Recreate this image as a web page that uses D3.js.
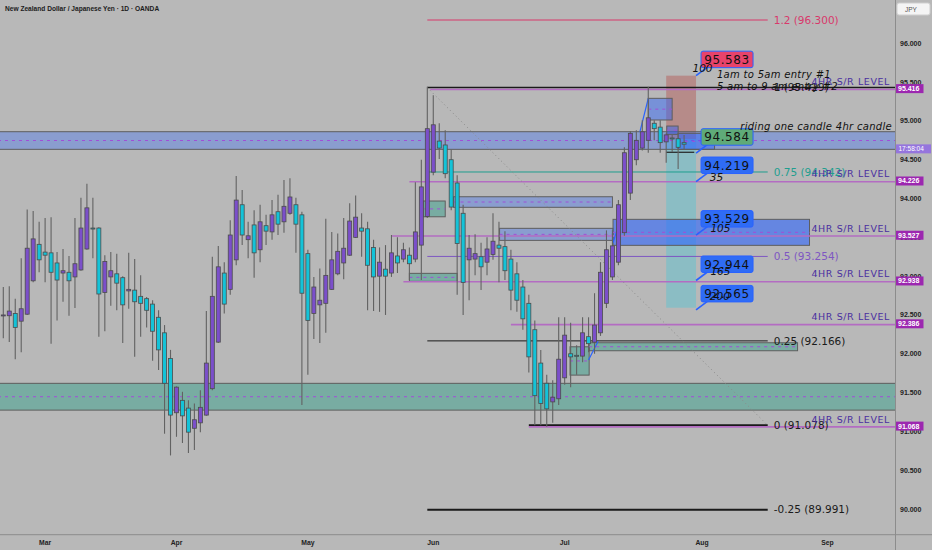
<!DOCTYPE html>
<html>
<head>
<meta charset="utf-8">
<script src="https://cdn.jsdelivr.net/npm/d3@7"></script>
<style>
	body { margin: 0; background: #b8b8b8; }
	svg { display: block; font-family: "DejaVu Sans", sans-serif; }
</style>
</head>
<body>
<div id="chart"></div>
<script>
// daily candles, NZD/JPY
const opens = [92.49, 92.49, 92.52, 92.42, 92.51, 92.94, 93.41, 93.31, 93.30, 93.17,
	93.04, 93.05, 92.99, 93.08, 93.35, 93.62, 93.62, 92.79, 92.99, 93.03,
	92.98, 92.81, 92.82, 92.74, 92.71, 92.64, 92.47, 92.27, 91.94, 91.24,
	91.40, 91.30, 91.04, 91.11, 91.21, 91.55, 92.15, 93.04, 92.83, 93.21,
	93.92, 93.47, 93.66, 93.34, 93.65, 93.57, 93.83, 93.70, 93.81, 93.92,
	93.79, 93.29, 92.52, 92.63, 92.65, 92.83, 93.03, 93.17, 93.27, 93.50,
	93.62, 93.61, 93.37, 93.00, 93.09, 93.04, 93.26, 93.22, 93.27, 93.22,
	93.40, 93.77, 94.34, 94.74, 94.69, 94.50, 94.20, 93.81, 93.21, 93.22,
	93.25, 93.18, 93.28, 93.40, 93.38, 93.22, 93.03, 92.86, 92.65, 92.31,
	91.88, 91.62, 91.38, 91.42, 91.69, 92.00, 91.98, 91.97, 92.22, 92.15,
	92.27, 92.65, 92.99, 93.18, 93.56, 94.07, 94.50, 94.65, 94.75, 94.97,
	94.92, 94.73, 94.78, 94.77, 94.72]
const highs = [92.86, 92.87, 92.71, 93.23, 93.86, 93.84, 93.70, 93.75, 93.76, 93.31,
	93.35, 93.26, 93.75, 94.01, 94.19, 94.01, 93.63, 93.27, 93.31, 93.29,
	93.00, 93.30, 93.22, 93.01, 92.73, 92.69, 92.56, 92.37, 92.05, 91.58,
	91.51, 91.40, 91.36, 91.53, 92.55, 93.25, 93.39, 93.18, 93.72, 94.29,
	94.11, 93.70, 93.85, 93.92, 93.79, 93.98, 94.05, 94.24, 94.26, 94.01,
	93.83, 93.34, 92.99, 93.10, 93.74, 93.57, 93.55, 93.75, 93.94, 94.04,
	93.81, 93.70, 93.47, 93.37, 93.40, 93.53, 93.50, 93.43, 93.37, 94.21,
	94.50, 95.44, 95.33, 94.97, 94.88, 94.63, 94.30, 93.92, 93.53, 93.54,
	93.43, 93.50, 93.81, 93.70, 93.58, 93.34, 93.18, 92.95, 92.76, 92.43,
	92.05, 91.73, 91.66, 92.47, 92.47, 92.40, 92.11, 92.47, 92.47, 92.78,
	93.18, 93.59, 93.59, 93.98, 94.66, 94.87, 94.88, 95.01, 95.44, 95.01,
	95.01, 94.84, 94.82, 94.84, 94.82]
const lows = [92.20, 92.15, 91.93, 92.02, 92.50, 92.92, 93.05, 92.92, 92.13, 92.43,
	92.67, 92.49, 92.59, 93.07, 93.34, 93.23, 92.22, 92.29, 92.62, 92.56,
	92.14, 92.58, 91.96, 92.22, 92.34, 91.91, 91.79, 90.97, 90.69, 90.93,
	90.85, 90.72, 90.76, 90.99, 91.20, 91.53, 92.14, 92.52, 92.76, 93.14,
	93.40, 93.23, 92.98, 93.18, 93.40, 93.47, 93.53, 93.56, 93.79, 93.30,
	91.34, 91.73, 92.19, 92.14, 92.27, 92.82, 93.01, 92.96, 93.26, 93.49,
	93.25, 92.56, 92.55, 92.54, 92.50, 92.99, 93.04, 93.18, 92.95, 93.18,
	92.95, 93.75, 94.30, 94.51, 94.26, 93.85, 92.76, 92.50, 92.69, 93.01,
	92.82, 93.01, 93.21, 92.92, 92.95, 92.56, 92.54, 92.31, 91.76, 91.08,
	91.08, 91.06, 91.11, 91.34, 91.60, 91.57, 91.73, 91.89, 92.02, 92.00,
	92.23, 92.59, 92.95, 93.14, 93.52, 93.98, 94.43, 94.62, 94.59, 94.75,
	94.59, 94.46, 94.60, 94.38, 94.63]
const closes = [92.50, 92.55, 92.34, 92.58, 93.36, 93.48, 93.21, 93.27, 93.05, 92.95,
	93.07, 92.94, 93.16, 93.62, 93.88, 93.61, 92.77, 93.19, 93.07, 92.91,
	92.63, 92.83, 92.67, 92.65, 92.56, 92.29, 92.05, 91.62, 91.21, 91.57,
	91.20, 90.99, 91.15, 91.31, 91.88, 92.74, 93.12, 92.64, 93.53, 93.98,
	93.53, 93.52, 93.30, 93.70, 93.58, 93.79, 93.67, 93.90, 94.02, 93.67,
	92.78, 92.43, 92.86, 92.69, 93.01, 93.21, 93.32, 93.36, 93.71, 93.76,
	93.58, 93.14, 92.99, 93.18, 93.00, 93.30, 93.17, 93.34, 93.16, 93.57,
	94.15, 94.90, 94.95, 94.65, 94.32, 93.89, 93.42, 92.92, 93.36, 93.29,
	93.12, 93.35, 93.45, 93.36, 93.07, 92.82, 92.69, 92.45, 91.96, 91.46,
	91.36, 91.29, 91.44, 91.93, 92.24, 91.96, 91.97, 92.27, 92.13, 92.37,
	93.05, 93.34, 93.39, 93.92, 94.59, 94.84, 94.75, 94.86, 95.04, 94.90,
	94.72, 94.82, 94.77, 94.66, 94.70]

const monthLabels = ['Mar', 'Apr', 'May', 'Jun', 'Jul', 'Aug', 'Sep']
const monthBars = [7, 29, 51, 72, 94, 117, 138]
const priceTicks = [90, 90.5, 91, 91.5, 92, 92.5, 93, 93.5, 94, 94.5, 95, 95.5, 96]

// fib retracement drawn from the June high to the July low
const fibRatios = ['1.2', '1', '0.75', '0.5', '0.25', '0', '-0.25']
const fibValues = [96.300, 95.429, 94.342, 93.254, 92.166, 91.078, 89.991]
const fibFrom = [71, 71, 71, 71, 71, 88, 71]
const fibStart = 71, fibEnd = 128

// 4hr support / resistance levels (value, first bar)
const srLevels = [95.416, 94.226, 93.527, 92.938, 92.386, 91.068]
const srStart = [71.5, 68, 65, 67, 85, 88]

// zones: [firstBar, lastBar, top, bottom, kind]  (null bars = full width)
const zones = [
	[null, null, 94.861, 94.634, 'blue'],
	[null, null, 91.619, 91.274, 'green'],
	[70.3, 74, 93.968, 93.765, 'green'],
	[68, 76, 93.036, 92.933, 'green'],
	[75.4, 102, 94.023, 93.887, 'blue'],
	[83.1, 102.1, 93.616, 93.461, 'blue'],
	[102.1, 135, 93.732, 93.397, 'blueStrong'],
	[94.9, 98.1, 92.090, 91.725, 'green'],
	[98.1, 133, 92.142, 92.039, 'green'],
	[108, 112, 95.291, 95.012, 'blueMid'],
	[111.1, 113, 94.934, 94.827, 'blueMid'],
	[113, 119.1, 94.840, 94.634, 'blueMid']
]

// short position tool
const posBars = [111, 116]
const posStop = 95.583, posEntry = 94.767, posTarget = 92.593

// price callouts anchored on bar 116
const calloutBar = 116
const calloutPrices = [95.583, 94.584, 94.219, 93.529, 92.944, 92.565]
const calloutKinds = ['red', 'green', 'blue', 'blue', 'blue', 'blue']
const pipTexts = ['100', '35', '105', '165', '200']
const pipBars = [115.4, 118.3, 118.4, 118.4, 118.3]
const pipPrices = [95.626, 94.229, 93.564, 93.014, 92.692]

const notes = ['1am to 5am entry #1', '5 am to 9 am entry #2', 'riding one candle 4hr candle']
const noteBars = [119.5, 119.5, 123.4]
const notePrices = [95.553, 95.394, 94.883]

// small connector lines [bar0, price0, bar1, price1, colour]
const segments = [
	[98, 91.92, 99.6, 92.16, '#2962ff'],
	[102.1, 93.43, 103.3, 93.72, '#2962ff'],
	[106.6, 94.86, 108, 95.29, '#2962ff'],
	[111, 94.596, 115.7, 94.596, '#222']
]

const srTags = [95.416, 94.226, 93.527, 92.938, 92.386, 91.068]
const clockPrice = 94.64
const clockText = '17:58:04'

const W = 932, H = 550
const plotRight = 895.5, plotBottom = 534.7

const x = d3.scaleLinear().domain([0, 114]).range([3.3, 684.1])
const y = d3.scaleLinear().domain([90, 96]).range([509, 43.3])

const candles = opens.map((o, i) => ({ i, o, h: highs[i], l: lows[i], c: closes[i] }))

const svg = d3.select('#chart').append('svg')
	.attr('width', W)
	.attr('height', H)
	.attr('viewBox', [0, 0, W, H])

svg.append('rect').attr('width', W).attr('height', H).attr('fill', '#b8b8b8')

const plot = svg.append('g')
svg.append('clipPath').attr('id', 'clip')
	.append('rect').attr('width', plotRight).attr('height', plotBottom)
plot.attr('clip-path', 'url(#clip)')

const zoneFill = {
	blue: 'rgba(41,98,255,0.32)',
	blueMid: 'rgba(41,98,255,0.45)',
	blueStrong: 'rgba(41,98,255,0.58)',
	green: 'rgba(0,150,120,0.35)'
}

// position tool first, it sits underneath everything
plot.append('rect')
	.attr('x', x(posBars[0])).attr('width', x(posBars[1]) - x(posBars[0]))
	.attr('y', y(posStop)).attr('height', y(posEntry) - y(posStop))
	.attr('fill', '#b68b89')
plot.append('rect')
	.attr('x', x(posBars[0])).attr('width', x(posBars[1]) - x(posBars[0]))
	.attr('y', y(posEntry)).attr('height', y(posTarget) - y(posEntry))
	.attr('fill', '#8bbdc4')

zones.forEach(z => {
	const x0 = z[0] === null ? -2 : x(z[0])
	const x1 = z[1] === null ? plotRight + 2 : x(z[1])
	plot.append('rect')
		.attr('x', x0).attr('width', x1 - x0)
		.attr('y', y(z[2])).attr('height', y(z[3]) - y(z[2]))
		.attr('fill', zoneFill[z[4]])
		.attr('stroke', '#5e5e5e')
		.attr('stroke-width', 1)
	plot.append('line')
		.attr('x1', x0).attr('x2', x1)
		.attr('y1', y((z[2] + z[3]) / 2)).attr('y2', y((z[2] + z[3]) / 2))
		.attr('stroke', '#a04fd6')
		.attr('stroke-dasharray', '3,4')
		.attr('stroke-width', 1)
})

// fib levels
const fibColor = { '1.2': '#d8386b', '0.75': '#1f9e8f', '0.5': '#7e57c2' }
const fibWidth = { '0': 2, '-0.25': 2, '1': 1.5 }
fibRatios.forEach((r, k) => {
	plot.append('line')
		.attr('x1', x(fibFrom[k])).attr('x2', r === '1' ? plotRight : x(fibEnd))
		.attr('y1', y(fibValues[k])).attr('y2', y(fibValues[k]))
		.attr('stroke', fibColor[r] || '#1a1a1a')
		.attr('stroke-width', fibWidth[r] || 1)
})

// S/R lines
srLevels.forEach((v, k) => {
	plot.append('line')
		.attr('x1', x(srStart[k])).attr('x2', plotRight)
		.attr('y1', y(v) + 0.8).attr('y2', y(v) + 0.8)
		.attr('stroke', '#b36cc2')
		.attr('stroke-width', 1.6)
})

// dotted diagonal of the fib tool
plot.append('line')
	.attr('x1', x(fibStart)).attr('y1', y(fibValues[1]))
	.attr('x2', x(fibEnd)).attr('y2', y(fibValues[5]))
	.attr('stroke', '#8a8a8a')
	.attr('stroke-dasharray', '1,3')

segments.forEach(s => {
	plot.append('line')
		.attr('x1', x(s[0])).attr('y1', y(s[1]))
		.attr('x2', x(s[2])).attr('y2', y(s[3]))
		.attr('stroke', s[4])
		.attr('stroke-width', 1.2)
})

// candles
const node = plot.selectAll('.candle')
	.data(candles)
	.enter()
	.append('g')
	.attr('class', 'candle')

node.append('line')
	.attr('x1', d => x(d.i)).attr('x2', d => x(d.i))
	.attr('y1', d => y(d.h)).attr('y2', d => y(d.l))
	.attr('stroke', '#626262')
	.attr('stroke-width', 1.1)

node.append('rect')
	.attr('x', d => x(d.i) - 2)
	.attr('width', 4)
	.attr('y', d => y(Math.max(d.o, d.c)))
	.attr('height', d => Math.max(1, Math.abs(y(d.o) - y(d.c))))
	.attr('fill', d => d.c >= d.o ? '#7b4fca' : '#14c3d8')
	.attr('stroke', '#4c4c4c')
	.attr('stroke-width', 0.8)

// fib labels
fibRatios.forEach((r, k) => {
	plot.append('text')
		.attr('x', x(fibEnd) + 6)
		.attr('y', y(fibValues[k]) + 3.8)
		.attr('font-size', 10.5)
		.attr('fill', fibColor[r] || '#1a1a1a')
		.text(`${r} (${fibValues[k].toFixed(3)})`)
})

// S/R captions
srLevels.forEach(v => {
	plot.append('text')
		.attr('x', 890)
		.attr('y', y(v) - 3.5)
		.attr('text-anchor', 'end')
		.attr('font-size', 9.5)
		.attr('letter-spacing', 0.6)
		.attr('fill', '#4a2fa0')
		.text('4HR S/R LEVEL')
})

// callouts
const calloutFill = { red: '#e8436b', green: '#5faa78', blue: '#2f6cf5' }
calloutPrices.forEach((p, k) => {
	const ax = x(calloutBar), ay = y(p)
	plot.append('line')
		.attr('x1', ax).attr('y1', ay)
		.attr('x2', ax + 12).attr('y2', ay - 9)
		.attr('stroke', '#2962ff')
		.attr('stroke-width', 1.6)
	plot.append('rect')
		.attr('x', ax + 5).attr('y', ay - 24.5)
		.attr('width', 52).attr('height', 16.5)
		.attr('rx', 2)
		.attr('fill', calloutFill[calloutKinds[k]])
		.attr('stroke', '#2962ff')
		.attr('stroke-width', 1)
	plot.append('text')
		.attr('x', ax + 31).attr('y', ay - 11.8)
		.attr('text-anchor', 'middle')
		.attr('font-size', 12)
		.attr('letter-spacing', 0.6)
		.attr('fill', '#111')
		.text(p.toFixed(3))
})

pipTexts.forEach((t, k) => {
	plot.append('text')
		.attr('x', x(pipBars[k])).attr('y', y(pipPrices[k]))
		.attr('font-size', 10.5)
		.attr('font-style', 'italic')
		.attr('fill', '#111')
		.text(t)
})

notes.forEach((t, k) => {
	plot.append('text')
		.attr('x', x(noteBars[k])).attr('y', y(notePrices[k]))
		.attr('font-size', 10)
		.attr('font-style', 'italic')
		.attr('letter-spacing', 0.3)
		.attr('fill', '#111')
		.text(t)
})

// title
svg.append('text')
	.attr('x', 5).attr('y', 10.5)
	.attr('font-family', '"Liberation Sans", sans-serif')
	.attr('font-weight', 'bold')
	.attr('font-size', 6.6)
	.attr('fill', '#1c1c1c')
	.text('New Zealand Dollar / Japanese Yen · 1D · OANDA')

// axes frame
svg.append('line')
	.attr('x1', 0).attr('x2', W).attr('y1', plotBottom).attr('y2', plotBottom)
	.attr('stroke', '#8c8c8c')
svg.append('line')
	.attr('x1', plotRight).attr('x2', plotRight).attr('y1', 0).attr('y2', H)
	.attr('stroke', '#8c8c8c')

const axisFont = '"Liberation Sans", sans-serif'

svg.selectAll('.ptick')
	.data(priceTicks)
	.enter()
	.append('text')
	.attr('class', 'ptick')
	.attr('x', 900)
	.attr('y', d => y(d) + 2.5)
	.attr('font-family', axisFont)
	.attr('font-weight', 'bold')
	.attr('font-size', 7)
	.attr('fill', '#222')
	.text(d => d.toFixed(3))

svg.selectAll('.mtick')
	.data(monthLabels)
	.enter()
	.append('text')
	.attr('class', 'mtick')
	.attr('x', (d, k) => x(monthBars[k]))
	.attr('y', 545)
	.attr('text-anchor', 'middle')
	.attr('font-family', axisFont)
	.attr('font-weight', 'bold')
	.attr('font-size', 6.8)
	.attr('fill', '#222')
	.text(d => d)

// level tags on the price scale
srTags.forEach(v => {
	svg.append('rect')
		.attr('x', 896).attr('y', y(v) - 4.5)
		.attr('width', 27.5).attr('height', 9)
		.attr('fill', '#9c27b0')
	svg.append('text')
		.attr('x', 898).attr('y', y(v) + 2.5)
		.attr('font-family', axisFont)
		.attr('font-weight', 'bold')
		.attr('font-size', 7)
		.attr('fill', '#fff')
		.text(v.toFixed(3))
})

svg.append('rect')
	.attr('x', 896).attr('y', y(clockPrice) - 4.5)
	.attr('width', 35).attr('height', 9)
	.attr('fill', '#9575dd')
svg.append('text')
	.attr('x', 898.5).attr('y', y(clockPrice) + 2.3)
	.attr('font-family', axisFont)
	.attr('font-size', 6.5)
	.attr('fill', '#fff')
	.text(clockText)

svg.append('rect')
	.attr('x', 897).attr('y', 3)
	.attr('width', 33).attr('height', 12)
	.attr('rx', 2)
	.attr('fill', '#f4f4f4')
	.attr('stroke', '#cfcfcf')
svg.append('text')
	.attr('x', 905).attr('y', 11.5)
	.attr('font-family', axisFont)
	.attr('font-size', 6.5)
	.attr('fill', '#555')
	.text('JPY')
</script>
</body>
</html>
